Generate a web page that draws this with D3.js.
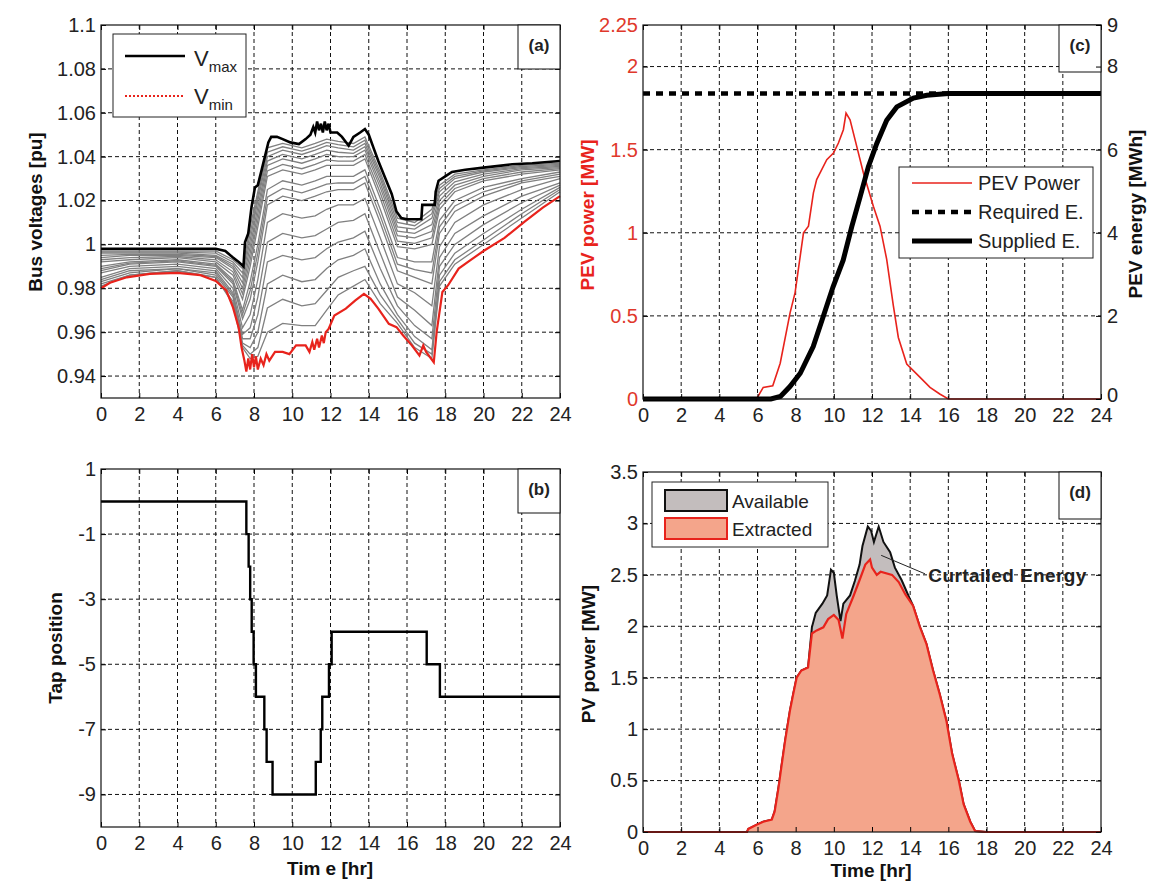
<!DOCTYPE html>
<html>
<head>
<meta charset="utf-8">
<script src="https://cdn.jsdelivr.net/npm/d3@7"></script>
<style>
  body { margin: 0; background: #fff; }
  text { font-family: "Liberation Sans", Arial, sans-serif; }
</style>
</head>
<body>
<div id="chart"></div>
<script>
// ---- data ----
var hours = [0, 2, 4, 6, 8, 10, 12, 14, 16, 18, 20, 22, 24];
var voltTicks = [0.94, 0.96, 0.98, 1, 1.02, 1.04, 1.06, 1.08, 1.1];
var tapTicks = [1, -1, -3, -5, -7, -9];
var pevPowerTicks = [0, 0.5, 1, 1.5, 2, 2.25];
var pevEnergyTicks = [0, 2, 4, 6, 8, 9];
var pvTicks = [0, 0.5, 1, 1.5, 2, 2.5, 3, 3.5];

// (a) bus voltages [hr, pu]
var vmax = [[0,0.998],[2,0.998],[4,0.998],[6,0.998],[6.5,0.997],[6.9,0.994],[7.2,0.992],[7.45,0.990],
  [7.53,1.001],[7.7,1.005],[7.87,1.017],[8.05,1.026],[8.2,1.027],[8.4,1.034],[8.57,1.040],[8.75,1.0465],
  [8.9,1.049],[9.2,1.049],[9.5,1.048],[9.9,1.0465],[10.35,1.0457],[10.7,1.048],[10.95,1.050],[11.1,1.0535],
  [11.2,1.051],[11.3,1.056],[11.4,1.052],[11.5,1.055],[11.6,1.051],[11.7,1.056],[11.8,1.052],[11.9,1.055],
  [12.0,1.051],[12.35,1.051],[12.6,1.049],[12.95,1.045],[13.2,1.049],[13.55,1.051],[13.8,1.0526],[14.0,1.050],
  [14.25,1.044],[14.5,1.038],[14.85,1.0305],[15.2,1.023],[15.45,1.015],[15.7,1.012],[16.0,1.0115],[16.75,1.0115],
  [16.8,1.018],[17.45,1.018],[17.5,1.024],[17.65,1.029],[18.0,1.031],[18.35,1.033],[19.05,1.034],[20,1.035],
  [21.5,1.0365],[22.55,1.037],[24,1.038]];

var vmin = [[0,0.980],[0.47,0.9825],[1.35,0.985],[2.55,0.9866],[4,0.987],[5.2,0.986],[6,0.9833],[6.55,0.979],
  [6.9,0.9713],[7.2,0.962],[7.35,0.953],[7.5,0.947],[7.6,0.942],[7.7,0.948],[7.8,0.943],[7.9,0.950],[8.0,0.944],
  [8.1,0.949],[8.2,0.943],[8.35,0.948],[8.5,0.945],[8.65,0.950],[8.8,0.947],[9.1,0.951],[9.5,0.951],[9.85,0.950],
  [10.2,0.954],[10.7,0.954],[10.9,0.951],[11.05,0.9555],[11.15,0.952],[11.3,0.957],[11.4,0.953],[11.55,0.9585],
  [11.65,0.955],[11.75,0.960],[11.9,0.9615],[12.2,0.9676],[12.8,0.9707],[13.3,0.9745],[13.75,0.9775],[14.1,0.9752],
  [14.5,0.9707],[15.05,0.9638],[15.45,0.9623],[15.8,0.9585],[16.25,0.954],[16.65,0.9494],[16.85,0.954],[17.0,0.951],
  [17.4,0.9463],[17.55,0.960],[17.85,0.9783],[18.15,0.9814],[18.7,0.989],[19.3,0.9927],[20,0.997],[21.1,1.003],
  [22.2,1.0107],[23.1,1.0168],[24,1.022]];

// other buses: common time points, one row per bus
var busTimes = [0, 1.5, 4, 6, 6.9, 7.4, 7.8, 8.2, 8.7, 9.5, 10.5, 11.2, 11.8, 12.4, 13.2, 13.8, 14.6, 15.5, 16.4, 17.3, 17.7, 18.5, 20, 22, 24];
var busVolts = [
  [0.997,0.997,0.997,0.997,0.993,0.989,1.008,1.024,1.044,1.046,1.044,1.046,1.048,1.047,1.046,1.049,1.033,1.012,1.010,1.016,1.027,1.032,1.034,1.036,1.037],
  [0.9965,0.9965,0.9965,0.996,0.992,0.987,1.005,1.022,1.042,1.0445,1.0425,1.0445,1.0465,1.0455,1.0445,1.0475,1.0315,1.010,1.0085,1.014,1.0255,1.031,1.0335,1.0355,1.0365],
  [0.996,0.996,0.996,0.995,0.991,0.985,1.002,1.020,1.040,1.043,1.041,1.043,1.045,1.044,1.043,1.046,1.030,1.008,1.007,1.012,1.024,1.030,1.033,1.035,1.036],
  [0.995,0.9955,0.9955,0.9945,0.990,0.9825,0.999,1.017,1.038,1.041,1.039,1.041,1.043,1.042,1.0415,1.0445,1.028,1.006,1.005,1.009,1.022,1.0285,1.032,1.0345,1.0355],
  [0.994,0.995,0.995,0.994,0.989,0.980,0.996,1.014,1.036,1.039,1.037,1.039,1.041,1.040,1.040,1.043,1.026,1.004,1.003,1.006,1.020,1.027,1.031,1.034,1.035],
  [0.993,0.994,0.9945,0.993,0.9875,0.9775,0.993,1.011,1.0335,1.0365,1.0345,1.0365,1.0385,1.038,1.038,1.041,1.0235,1.0015,1.0005,1.003,1.018,1.0255,1.030,1.033,1.0345],
  [0.992,0.993,0.994,0.992,0.986,0.975,0.990,1.008,1.031,1.034,1.032,1.034,1.036,1.036,1.036,1.039,1.021,0.999,0.998,1.000,1.016,1.024,1.029,1.032,1.034],
  [0.990,0.992,0.993,0.991,0.984,0.970,0.983,1.000,1.025,1.029,1.027,1.029,1.031,1.031,1.031,1.034,1.016,0.994,0.992,0.992,1.011,1.020,1.026,1.030,1.033],
  [0.989,0.9915,0.9925,0.9905,0.983,0.968,0.979,0.996,1.0215,1.0255,1.0235,1.0255,1.0275,1.028,1.028,1.031,1.013,0.991,0.9885,0.987,1.008,1.0175,1.024,1.029,1.032],
  [0.988,0.991,0.992,0.990,0.982,0.966,0.975,0.992,1.018,1.022,1.020,1.022,1.024,1.025,1.025,1.028,1.010,0.988,0.985,0.982,1.005,1.015,1.022,1.028,1.031],
  [0.987,0.990,0.991,0.989,0.980,0.962,0.968,0.984,1.010,1.014,1.012,1.013,1.016,1.018,1.018,1.021,1.003,0.982,0.978,0.972,0.999,1.010,1.018,1.025,1.030],
  [0.985,0.989,0.990,0.988,0.978,0.959,0.962,0.976,1.001,1.005,1.003,1.004,1.007,1.010,1.011,1.014,0.996,0.976,0.970,0.963,0.994,1.005,1.013,1.022,1.028],
  [0.984,0.988,0.989,0.987,0.977,0.957,0.957,0.968,0.992,0.995,0.993,0.994,0.998,1.001,1.003,1.006,0.989,0.972,0.963,0.957,0.990,1.000,1.009,1.019,1.027],
  [0.983,0.987,0.989,0.986,0.976,0.955,0.953,0.960,0.982,0.986,0.983,0.984,0.989,0.993,0.995,0.998,0.982,0.968,0.958,0.952,0.986,0.996,1.005,1.016,1.026],
  [0.982,0.986,0.988,0.985,0.974,0.954,0.950,0.953,0.971,0.975,0.972,0.973,0.979,0.985,0.988,0.990,0.977,0.966,0.955,0.950,0.983,0.993,1.002,1.014,1.025],
  [0.981,0.986,0.988,0.985,0.973,0.953,0.948,0.949,0.960,0.964,0.963,0.963,0.970,0.977,0.981,0.984,0.973,0.964,0.953,0.948,0.981,0.991,1.000,1.012,1.024]
];

// (b) tap position, steps
var tapSteps = [[0,0],[7.6,-1],[7.72,-2],[7.8,-3],[7.88,-4],[7.98,-5],[8.1,-6],[8.54,-7],[8.66,-8],[8.97,-9],
  [11.23,-8],[11.49,-7],[11.57,-6],[11.92,-5],[12.06,-4],[17.03,-5],[17.72,-6],[24,-6]];

// (c) PEV power [MW] and energy [MWh]
var pevPower = [[0,0],[5.95,0],[6.3,0.07],[6.8,0.08],[7.19,0.215],[7.71,0.52],[7.97,0.64],[8.41,1.0],[8.67,1.04],
  [8.93,1.24],[9.1,1.32],[9.63,1.44],[9.98,1.48],[10.24,1.54],[10.5,1.62],[10.64,1.72],[10.85,1.68],[11.2,1.52],
  [11.55,1.36],[12.07,1.16],[12.42,1.04],[12.77,0.84],[13.12,0.56],[13.38,0.37],[13.82,0.21],[14.52,0.13],
  [15.04,0.07],[15.55,0.03],[16,0],[24,0]];
var requiredE = [[0,7.35],[24,7.35]];
var suppliedE = [[0,0],[6.7,0],[7.2,0.06],[7.7,0.3],[8.24,0.62],[8.92,1.26],[9.44,1.98],[9.96,2.7],[10.49,3.34],
  [10.94,4.15],[11.38,4.87],[11.81,5.59],[12.25,6.15],[12.77,6.71],[13.3,7.03],[14.17,7.24],[14.87,7.31],[16,7.35],[24,7.35]];

// (d) PV power [MW]
var pvAvailable = [[0,0],[5.45,0],[5.52,0.03],[5.95,0.07],[6.3,0.1],[6.75,0.12],[6.9,0.2],[7.1,0.43],[7.25,0.63],
  [7.45,0.89],[7.7,1.18],[7.87,1.34],[8.05,1.5],[8.3,1.57],[8.65,1.6],[8.85,1.99],[9.05,2.13],[9.4,2.22],[9.65,2.3],
  [9.85,2.55],[10.0,2.52],[10.15,2.3],[10.35,2.05],[10.5,2.22],[10.85,2.3],[11.1,2.44],[11.35,2.6],[11.5,2.78],
  [11.78,2.97],[11.95,2.93],[12.1,2.82],[12.35,2.97],[12.6,2.82],[12.95,2.72],[13.2,2.57],[13.55,2.45],[13.95,2.28],
  [14.15,2.2],[14.5,2.0],[14.85,1.83],[15.2,1.57],[15.55,1.34],[15.9,1.08],[16.2,0.76],[16.55,0.5],[16.8,0.27],
  [17.15,0.1],[17.4,0.01],[18,0],[24,0]];
var pvExtracted = [[0,0],[5.45,0],[5.52,0.03],[5.95,0.07],[6.3,0.1],[6.75,0.12],[6.9,0.2],[7.1,0.43],[7.25,0.63],
  [7.45,0.89],[7.7,1.18],[7.87,1.34],[8.05,1.5],[8.3,1.57],[8.65,1.6],[8.85,1.93],[9.1,1.96],[9.45,1.99],[9.7,2.07],
  [10.0,2.11],[10.25,2.06],[10.45,1.88],[10.65,2.12],[11.0,2.28],[11.35,2.45],[11.65,2.6],[11.9,2.65],[12.0,2.57],
  [12.25,2.5],[12.45,2.53],[13.05,2.5],[13.4,2.43],[13.75,2.31],[14.15,2.2],[14.5,2.0],[14.85,1.83],[15.2,1.57],
  [15.55,1.34],[15.9,1.08],[16.2,0.76],[16.55,0.5],[16.8,0.27],[17.15,0.1],[17.4,0.01],[18,0],[24,0]];

// ---- drawing ----
var RED = "#e8231c";
var svg = d3.select("#chart").append("svg")
    .attr("width", 1159)
    .attr("height", 883);

function fmtNum(v) { return String(+v.toFixed(2)); }

function makePanel(b, yDom, yTicks, opt) {
    opt = opt || {};
    var x = d3.scaleLinear().domain([0, 24]).range([b.x0, b.x1]);
    var y = d3.scaleLinear().domain(yDom).range([b.y1, b.y0]);
    var g = svg.append("g");

    // dashed grid
    var grid = g.append("g");
    grid.selectAll("line.gx")
        .data(hours.filter(function(h) { return h > 0 && h < 24; }))
        .enter().append("line")
        .attr("x1", function(d) { return x(d); }).attr("x2", function(d) { return x(d); })
        .attr("y1", b.y0).attr("y2", b.y1);
    grid.selectAll("line.gy")
        .data(yTicks.filter(function(v) { return v > yDom[0] && v < yDom[1]; }))
        .enter().append("line")
        .attr("x1", b.x0).attr("x2", b.x1)
        .attr("y1", function(d) { return y(d); }).attr("y2", function(d) { return y(d); });
    grid.selectAll("line")
        .attr("stroke", "#111").attr("stroke-width", 1).attr("stroke-dasharray", "4,3");

    var layer = g.append("g");
    var front = g.append("g");

    // axes, ticks pointing inward
    front.append("g").attr("transform", "translate(0," + b.y1 + ")")
        .call(d3.axisBottom(x).tickValues(hours).tickSize(-5).tickPadding(9).tickFormat(d3.format("d")));
    front.append("g").attr("transform", "translate(0," + b.y0 + ")")
        .call(d3.axisTop(x).tickValues(hours).tickSize(-5).tickFormat(""));
    var la = front.append("g").attr("transform", "translate(" + b.x0 + ",0)")
        .call(d3.axisLeft(y).tickValues(yTicks).tickSize(-5).tickPadding(5).tickFormat(fmtNum));
    if (opt.leftColor) la.selectAll("text").attr("fill", opt.leftColor);
    if (!opt.noRightTicks) {
        front.append("g").attr("transform", "translate(" + b.x1 + ",0)")
            .call(d3.axisRight(y).tickValues(yTicks).tickSize(-5).tickFormat(""));
    }
    front.selectAll(".domain").remove();
    front.selectAll(".tick line").attr("stroke", "#000");
    front.selectAll(".tick text").attr("font-size", 20)
        .filter(function() { return d3.select(this).attr("fill") === "currentColor"; })
        .attr("fill", "#222");

    front.append("rect")
        .attr("x", b.x0).attr("y", b.y0)
        .attr("width", b.x1 - b.x0).attr("height", b.y1 - b.y0)
        .attr("fill", "none").attr("stroke", "#111").attr("stroke-width", 1.2);

    // panel tag box
    var tag = front.append("g");
    tag.append("rect")
        .attr("x", b.x1 - 42).attr("y", b.y0)
        .attr("width", 42).attr("height", opt.tagH || 45)
        .attr("fill", "#fff").attr("stroke", "#111").attr("stroke-width", 1);
    tag.append("text")
        .attr("x", b.x1 - 21).attr("y", b.y0 + 26)
        .attr("text-anchor", "middle").attr("font-size", 17).attr("font-weight", "bold")
        .attr("fill", "#222")
        .text(opt.tag);

    return { x: x, y: y, layer: layer, front: front, b: b };
}

function yLabel(xc, yc, txt, color) {
    svg.append("text")
        .attr("transform", "translate(" + xc + "," + yc + ") rotate(-90)")
        .attr("text-anchor", "middle").attr("dy", "0.35em")
        .attr("font-size", 19).attr("font-weight", "bold")
        .attr("fill", color || "#111")
        .text(txt);
}

function xLabel(xc, yb, txt) {
    svg.append("text")
        .attr("x", xc).attr("y", yb)
        .attr("text-anchor", "middle")
        .attr("font-size", 19).attr("font-weight", "bold").attr("fill", "#111")
        .text(txt);
}

// ---------- (a) ----------
var pa = makePanel({ x0: 101, x1: 560, y0: 25, y1: 398 }, [0.93, 1.1], voltTicks, { tag: "(a)", tagH: 44 });
var lineA = d3.line().x(function(d) { return pa.x(d[0]); }).y(function(d) { return pa.y(d[1]); });

pa.layer.selectAll("path.bus")
    .data(busVolts)
    .enter().append("path")
    .attr("class", "bus")
    .attr("d", function(row) { return lineA(row.map(function(v, i) { return [busTimes[i], v]; })); })
    .attr("fill", "none").attr("stroke", "#808080").attr("stroke-width", 1.3);
pa.layer.append("path").attr("d", lineA(vmin))
    .attr("fill", "none").attr("stroke", RED).attr("stroke-width", 2.2);
pa.layer.append("path").attr("d", lineA(vmax))
    .attr("fill", "none").attr("stroke", "#000").attr("stroke-width", 2.6);

var legA = pa.front.append("g");
legA.append("rect").attr("x", 113).attr("y", 34).attr("width", 133).attr("height", 83)
    .attr("fill", "#fff").attr("stroke", "#222").attr("stroke-width", 1);
legA.append("line").attr("x1", 125).attr("x2", 185).attr("y1", 56).attr("y2", 56)
    .attr("stroke", "#000").attr("stroke-width", 2.6);
legA.append("line").attr("x1", 125).attr("x2", 183).attr("y1", 96).attr("y2", 96)
    .attr("stroke", RED).attr("stroke-width", 2.2).attr("stroke-dasharray", "2,2");
[["max", 66], ["min", 104]].forEach(function(e) {
    var t = legA.append("text").attr("x", 194).attr("y", e[1]).attr("font-size", 22).attr("fill", "#222");
    t.append("tspan").text("V");
    t.append("tspan").attr("dy", 6).attr("font-size", 15).text(e[0]);
});
yLabel(35, 212, "Bus voltages [pu]");

// ---------- (c) ----------
var pc = makePanel({ x0: 643, x1: 1101, y0: 25, y1: 399 }, [0, 2.25], pevPowerTicks,
    { tag: "(c)", tagH: 47, leftColor: "#e0382b", noRightTicks: true });
var yE = d3.scaleLinear().domain([0, 9]).range([399, 25]);
var ra = pc.front.append("g").attr("transform", "translate(1101,0)")
    .call(d3.axisRight(yE).tickValues(pevEnergyTicks).tickSize(-5).tickPadding(6));
ra.select(".domain").remove();
ra.selectAll(".tick line").attr("stroke", "#000");
ra.selectAll(".tick text").attr("font-size", 20).attr("fill", "#222")
    .attr("dy", function(d) { return d === 0 ? "0.12em" : "0.32em"; });

var lineP = d3.line().x(function(d) { return pc.x(d[0]); }).y(function(d) { return pc.y(d[1]); });
var lineE = d3.line().x(function(d) { return pc.x(d[0]); }).y(function(d) { return yE(d[1]); });
pc.layer.append("path").attr("d", lineE(requiredE))
    .attr("fill", "none").attr("stroke", "#000").attr("stroke-width", 4.5).attr("stroke-dasharray", "7,6");
pc.layer.append("path").attr("d", lineP(pevPower))
    .attr("fill", "none").attr("stroke", RED).attr("stroke-width", 1.6);
pc.layer.append("path").attr("d", lineE(suppliedE))
    .attr("fill", "none").attr("stroke", "#000").attr("stroke-width", 5);

var legC = pc.front.append("g");
legC.append("rect").attr("x", 899).attr("y", 167).attr("width", 194).attr("height", 91)
    .attr("fill", "#fff").attr("stroke", "#222").attr("stroke-width", 1);
var legCItems = [
    { label: "PEV Power", color: RED, w: 1.6, dash: null },
    { label: "Required E.", color: "#000", w: 4.5, dash: "7,6" },
    { label: "Supplied E.", color: "#000", w: 5, dash: null }
];
legCItems.forEach(function(d, i) {
    var yy = 183 + i * 29;
    legC.append("line").attr("x1", 912).attr("x2", 972).attr("y1", yy).attr("y2", yy)
        .attr("stroke", d.color).attr("stroke-width", d.w).attr("stroke-dasharray", d.dash);
    legC.append("text").attr("x", 978).attr("y", yy + 7).attr("font-size", 20).attr("fill", "#222").text(d.label);
});
yLabel(587, 215, "PEV power [MW]", RED);
yLabel(1135, 214, "PEV energy [MWh]");

// ---------- (b) ----------
var pb = makePanel({ x0: 101, x1: 560, y0: 469, y1: 827 }, [-10, 1], tapTicks, { tag: "(b)", tagH: 44 });
var lineB = d3.line().curve(d3.curveStepAfter)
    .x(function(d) { return pb.x(d[0]); }).y(function(d) { return pb.y(d[1]); });
pb.layer.append("path").attr("d", lineB(tapSteps))
    .attr("fill", "none").attr("stroke", "#000").attr("stroke-width", 2.4);
yLabel(55, 648, "Tap position");
xLabel(330, 875, "Tim e [hr]");

// ---------- (d) ----------
var pd = makePanel({ x0: 643, x1: 1101, y0: 472, y1: 832 }, [0, 3.5], pvTicks, { tag: "(d)", tagH: 47 });
var areaD = d3.area().x(function(d) { return pd.x(d[0]); }).y0(pd.y(0)).y1(function(d) { return pd.y(d[1]); });
var lineD = d3.line().x(function(d) { return pd.x(d[0]); }).y(function(d) { return pd.y(d[1]); });
pd.layer.append("path").attr("d", areaD(pvAvailable)).attr("fill", "#c3bdbd");
pd.layer.append("path").attr("d", lineD(pvAvailable))
    .attr("fill", "none").attr("stroke", "#111").attr("stroke-width", 2);
pd.layer.append("path").attr("d", areaD(pvExtracted)).attr("fill", "#f4a58b");
pd.layer.append("path").attr("d", lineD(pvExtracted))
    .attr("fill", "none").attr("stroke", RED).attr("stroke-width", 2.2);

var legD = pd.front.append("g");
legD.append("rect").attr("x", 652).attr("y", 482).attr("width", 176).attr("height", 65)
    .attr("fill", "#fff").attr("stroke", "#222").attr("stroke-width", 1);
[["Available", "#c3bdbd", "#111", 490], ["Extracted", "#f4a58b", RED, 518]].forEach(function(e) {
    legD.append("rect").attr("x", 665).attr("y", e[3]).attr("width", 62).attr("height", 21)
        .attr("fill", e[1]).attr("stroke", e[2]).attr("stroke-width", 2);
    legD.append("text").attr("x", 732).attr("y", e[3] + 18).attr("font-size", 19).attr("fill", "#222").text(e[0]);
});

// curtailed energy note
pd.front.append("line")
    .attr("x1", pd.x(12.48)).attr("y1", pd.y(2.69))
    .attr("x2", pd.x(14.78)).attr("y2", pd.y(2.51))
    .attr("stroke", "#222").attr("stroke-width", 1);
pd.front.append("text")
    .attr("x", pd.x(14.95)).attr("y", pd.y(2.5)).attr("dy", "0.35em")
    .attr("font-size", 19).attr("font-weight", "bold").attr("fill", "#222")
    .attr("letter-spacing", 0.4)
    .text("Curtailed Energy");
yLabel(588, 654, "PV power [MW]");
xLabel(871, 877, "Time [hr]");
</script>
</body>
</html>
